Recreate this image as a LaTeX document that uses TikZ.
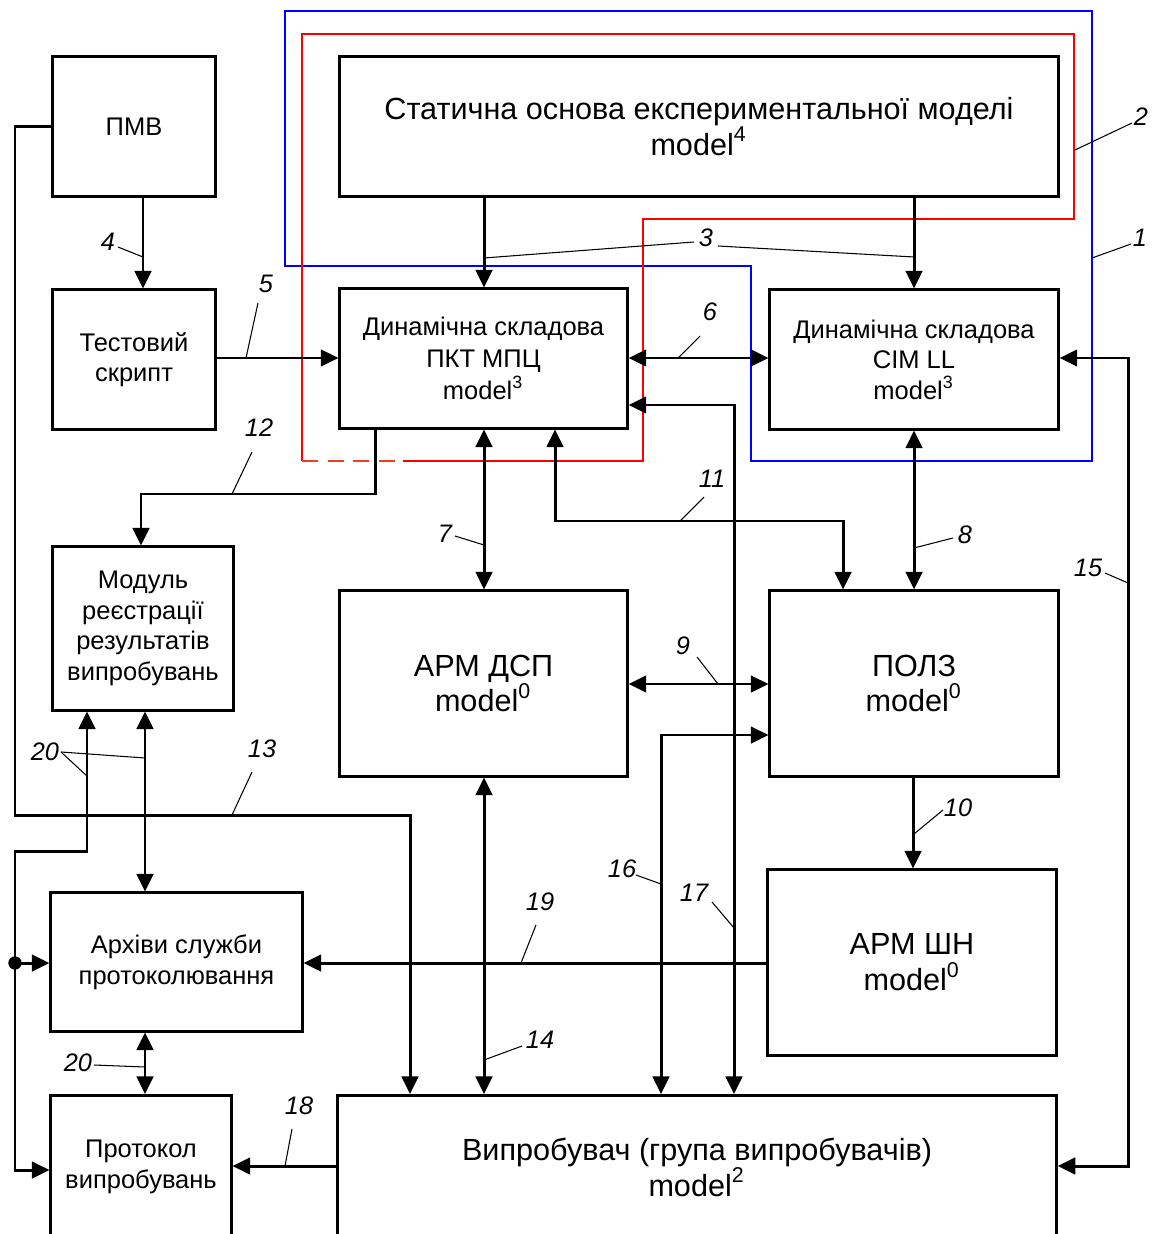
\documentclass[tikz,border=0pt]{standalone}
\usepackage{fontspec}
\setmainfont{Liberation Sans}
\usetikzlibrary{arrows.meta}
\definecolor{dashred}{RGB}{245,60,30}
\tikzset{
  box/.style={draw, line width=0.85pt, inner sep=0pt, align=center},
  smallf/.style={font=\fontsize{7.25}{8.7}\selectfont},
  bigf/.style={font=\fontsize{8.7}{10.2}\selectfont},
  conn/.style={line width=0.85pt, >={Triangle[length=5pt,width=4.7pt]}},
  lead/.style={line width=0.3pt},
  lbl/.style={font=\itshape\fontsize{7.2}{8}\selectfont, inner sep=0pt},
  redline/.style={draw=red, line width=0.55pt},
  blueline/.style={draw=blue, line width=0.55pt}
}
\begin{document}
\begin{tikzpicture}[x=0.01cm,y=-0.01cm]
\useasboundingbox (0,0) rectangle (1153,1234);
\clip (0,0) rectangle (1153,1234);

% boundaries 1 and 2
\draw[blueline] (285,11) -- (1092,11) -- (1092,461) -- (751,461) -- (751,266) -- (285,266) -- cycle;
\draw[redline] (403,461) -- (643,461) -- (643,219) -- (1074,219) -- (1074,34) -- (302,34) -- (302,461);
\draw[draw=dashred, line width=0.55pt, dash pattern=on 4.5pt off 2.8pt] (302,461) -- (403,461);

% boxes
\node[box,smallf,minimum width=1.62cm,minimum height=1.39cm] (pmv) at (134,126.5) {ПМВ};
\node[box,smallf,minimum width=1.62cm,minimum height=1.39cm] (test) at (134,359.5) {Тестовий\\скрипт};
\node[box,bigf,minimum width=7.18cm,minimum height=1.39cm] (stat) at (699,126.5) {Статична основа експериментальної моделі\\model\textsuperscript{4}};
\node[box,font=\fontsize{7.25}{9}\selectfont,minimum width=2.87cm,minimum height=1.39cm] (pkt) at (483.5,358.5) {Динамічна складова\\ПКТ МПЦ\\model\textsuperscript{3}};
\node[box,smallf,minimum width=2.88cm,minimum height=1.39cm] (cim) at (914,359.5) {Динамічна складова\\CIM LL\\model\textsuperscript{3}};
\node[box,smallf,minimum width=1.80cm,minimum height=1.63cm] (modul) at (143,628.5) {Модуль\\реєстрації\\результатів\\випробувань};
\node[box,bigf,minimum width=2.87cm,minimum height=1.85cm] (armdsp) at (483.5,683.5) {АРМ ДСП\\model\textsuperscript{0}};
\node[box,bigf,minimum width=2.88cm,minimum height=1.85cm] (polz) at (914,683.5) {ПОЛЗ\\model\textsuperscript{0}};
\node[box,bigf,minimum width=2.88cm,minimum height=1.85cm] (armshn) at (912,962.5) {АРМ ШН\\model\textsuperscript{0}};
\node[box,smallf,minimum width=2.51cm,minimum height=1.38cm] (arch) at (176.5,962) {Архіви служби\\протоколювання};
\node[box,smallf,minimum width=1.80cm,minimum height=1.43cm] (prot) at (141,1167) {Протокол\\випробувань};
\node[box,bigf,minimum width=7.18cm,minimum height=1.43cm] (vyp) at (697,1167) {Випробувач (група випробувачів)\\model\textsuperscript{2}};

% connectors
\draw[conn,->] (484,0 |- stat.south) -- (484,0 |- pkt.north);
\draw[conn,->] (stat.south -| cim) -- (cim.north);
\draw[conn,->] (143,0 |- pmv.south) -- (143,0 |- test.north);
\draw[conn,->] (test.east |- 0,358) -- (pkt.west |- 0,358);
\draw[conn,<->] (pkt.east |- 0,358) -- (cim.west |- 0,358);
\draw[conn,<->] (pkt.east |- 0,405) -- (734,405) -- (734,0 |- vyp.north);
\draw[conn,<->] (555,0 |- pkt.south) -- (555,521) -- (843,521) -- (843,0 |- polz.north);
\draw[conn,->] (375,0 |- pkt.south) -- (375,494) -- (141,494) -- (141,0 |- modul.north);
\draw[conn,<->] (484,0 |- pkt.south) -- (484,0 |- armdsp.north);
\draw[conn,<->] (cim.south) -- (cim.south |- polz.north);
\draw[conn,<->] (armdsp.east |- 0,684) -- (polz.west |- 0,684);
\draw[conn,<->] (polz.west |- 0,735) -- (661,735) -- (661,0 |- vyp.north);
\draw[conn,->] (913,0 |- polz.south) -- (913,0 |- armshn.north);
\draw[conn,<->] (484,0 |- armdsp.south) -- (484,0 |- vyp.north);
\draw[conn,<->] (cim.east |- 0,358) -- (1128,358) -- (1128,1166) -- (vyp.east |- 0,1166);
\draw[conn,->] (pmv.west |- 0,127) -- (15,127) -- (15,815) -- (410,815) -- (410,0 |- vyp.north);
\draw[conn,->] (vyp.west |- 0,1166) -- (prot.east |- 0,1166);
\draw[conn,->] (armshn.west |- 0,963) -- (arch.east |- 0,963);
\draw[conn,<->] (145,0 |- modul.south) -- (145,0 |- arch.north);
\coordinate (j) at (15,963);
\draw[conn,<->] (87,0 |- modul.south) -- (87,851) -- (15,851) -- (15,1170) -- (prot.west |- 0,1170);
\draw[conn,->] (j) -- (arch.west |- j);
\fill (j) circle (1.9pt);
\draw[conn,<->] (145,0 |- arch.south) -- (145,0 |- prot.north);

% labels and leaders
\node[lbl] (l1) at (1140,238) {1};
\draw[lead] (1131,244) -- (1092,258);
\node[lbl] (l2) at (1141,117) {2};
\draw[lead] (1132,123) -- (1075,150);
\node[lbl] (l3) at (706,238) {3};
\draw[lead] (694,242) -- (484,258);
\draw[lead] (718,246) -- (914,257);
\node[lbl] (l4) at (108,242) {4};
\draw[lead] (118,247) -- (143,257);
\node[lbl] (l5) at (266,284) {5};
\draw[lead] (258,303) -- (246,358);
\node[lbl] (l6) at (710,312) {6};
\draw[lead] (700,336) -- (678,358);
\node[lbl] (l7) at (445,534) {7};
\draw[lead] (455,536) -- (484,545);
\node[lbl] (l8) at (965,535) {8};
\draw[lead] (953,538) -- (914,548);
\node[lbl] (l9) at (683,646) {9};
\draw[lead] (697,657) -- (718,684);
\node[lbl] (l10) at (958,808) {10};
\draw[lead] (943,810) -- (914,834);
\node[lbl] (l11) at (712,479) {11};
\draw[lead] (704,497) -- (680,521);
\node[lbl] (l12) at (259,428) {12};
\draw[lead] (252,452) -- (232,494);
\node[lbl] (l13) at (262,749) {13};
\draw[lead] (252,772) -- (232,815);
\node[lbl] (l14) at (540,1040) {14};
\draw[lead] (522,1046) -- (484,1060);
\node[lbl] (l15) at (1088,568) {15};
\draw[lead] (1105,573) -- (1128,583);
\node[lbl] (l16) at (622,869) {16};
\draw[lead] (636,875) -- (661,884);
\node[lbl] (l17) at (694,893) {17};
\draw[lead] (712,902) -- (734,928);
\node[lbl] (l18) at (299,1106) {18};
\draw[lead] (292,1129) -- (285,1166);
\node[lbl] (l19) at (540,902) {19};
\draw[lead] (536,925) -- (521,963);
\node[lbl] (l20a) at (45,752) {20};
\draw[lead] (61,752) -- (87,776);
\draw[lead] (61,752) -- (145,758);
\node[lbl] (l20b) at (78,1063) {20};
\draw[lead] (94,1065) -- (145,1067);
\end{tikzpicture}
\end{document}
